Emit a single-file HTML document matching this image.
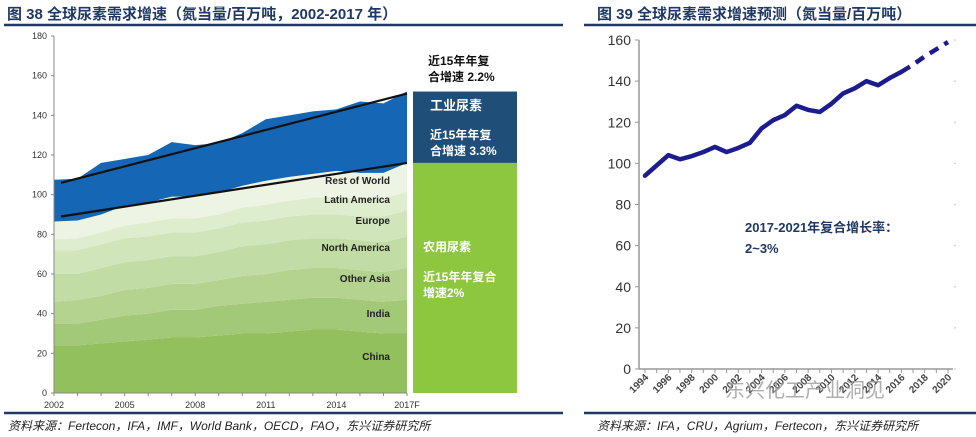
<!DOCTYPE html>
<html><head><meta charset="utf-8">
<style>
body{margin:0;width:976px;height:437px;background:#fff;overflow:hidden;font-family:"Liberation Sans","Noto Sans CJK SC",sans-serif;}
.t{position:absolute;font-weight:bold;color:#1f3864;font-size:15px;top:3px;white-space:nowrap;}
.f{position:absolute;font-style:italic;color:#222;font-size:12px;top:417px;white-space:nowrap;}
</style></head><body>
<div class="t" style="left:7px">图 38 全球尿素需求增速（氮当量/百万吨，2002-2017 年）</div>
<div class="t" style="left:597px">图 39 全球尿素需求增速预测（氮当量/百万吨）</div>
<div class="f" style="left:8px">资料来源：Fertecon，IFA，IMF，World Bank，OECD，FAO，东兴证券研究所</div>
<div class="f" style="left:597px">资料来源：IFA，CRU，Agrium，Fertecon，东兴证券研究所</div>
<svg id="svg" width="976" height="437" style="position:absolute;left:0;top:0">
<line x1="4" y1="25" x2="563" y2="25" stroke="#1f3864" stroke-width="2.5"/>
<line x1="584" y1="25" x2="976" y2="25" stroke="#1f3864" stroke-width="2.5"/>
<line x1="4" y1="413" x2="563" y2="413" stroke="#1f3864" stroke-width="2.5"/>
<line x1="584" y1="413" x2="976" y2="413" stroke="#1f3864" stroke-width="2.5"/>
<g id="L"></g><g id="R"></g>
</svg>
<script>
// ---- left chart data ----
const years = [2002,2003,2004,2005,2006,2007,2008,2009,2010,2011,2012,2013,2014,2015,2016,2017];
const layerNames = ["China","India","Other Asia","North America","Europe","Latin America","Rest of World"];
const china = [24,24,25,26,27,28,28,29,30,30,31,32,32,31,30,30];
const india = [11,11,12,13,13,14,14,15,15,16,16,16,16,16,16,17];
const otherAsia = [11,12,12,13,13,13,13,13,14,14,15,15,15,15,15,16];
const northAmerica = [14,13,14,14,14,14,14,14,15,15,15,15,15,15,15,16];
const europe = [12,12,12,12,12,12,12,12,12,12,12,12,12,12,13,13];
const latinAmerica = [5.5,6,6,6.5,7,7,7,7,7.5,8,8,8.5,9,9,9,9.5];
const restOfWorld = [9,9,9,10,10,11,11,11,11,12,12,12,13,13,13,14.5];
const industrial = [21,21,26,23.5,24,27.5,26,25,26.5,31,31,31.5,31,36,35,36];
const leftTicks = [0,20,40,60,80,100,120,140,160,180];
const xTickLabels = ["2002","2005","2008","2011","2014","2017F"];
const trendUpper = [106,151];
const trendLower = [89,116];
const barTotal = 152, barAgri = 116;
// ---- right chart data ----
const rYears = [1994,1995,1996,1997,1998,1999,2000,2001,2002,2003,2004,2005,2006,2007,2008,2009,2010,2011,2012,2013,2014,2015,2016,2017,2018,2019,2020];
const rValues = [94,99,104,102,103.5,105.5,108,105.5,107.5,110,117,121,123.5,128,126,125,129,134,136.5,140,138,141.5,144.5,148,152,155.5,159];
const rForecastStart = 2016;
const rTicks = [0,20,40,60,80,100,120,140,160];

const NS="http://www.w3.org/2000/svg";
function mk(p,tag,at,txt){const e=document.createElementNS(NS,tag);for(const k in at)e.setAttribute(k,at[k]);if(txt!==undefined)e.textContent=txt;p.appendChild(e);return e;}
const L=document.getElementById('L'), R=document.getElementById('R');

// left axes
const lx=y=>54+(y-2002)*(353/15);
const ly=v=>393-v*(357/180);
const layers=[china,india,otherAsia,northAmerica,europe,latinAmerica,restOfWorld,industrial];
const cols=["#92c05c","#a2c977","#b3d38f","#c2dca6","#d1e5bb","#dfedcf","#edf4e4","#1566b5"];
const lnames=["china-area","india-area","other-asia-area","north-america-area","europe-area","latin-america-area","rest-of-world-area","industrial-area"];
let base=years.map(()=>0);
layers.forEach((arr,i)=>{
  const top=base.map((b,j)=>b+arr[j]);
  let d="M"+years.map((y,j)=>lx(y)+","+ly(top[j])).join(" L");
  for(let j=years.length-1;j>=0;j--) d+=" L"+lx(years[j])+","+ly(base[j]);
  const p=mk(L,'path',{d:d+"Z",fill:cols[i]});
  
  
  base=top;
});
// trend lines
[[trendUpper,"trend-line-total"],[trendLower,"trend-line-agri"]].forEach(([t,n])=>{
  const l=mk(L,'line',{x1:lx(2002.3),y1:ly(t[0]),x2:lx(2017),y2:ly(t[1]),stroke:"#111","stroke-width":2.2});
  
  
});
// axes
const ya=mk(L,'line',{x1:54,y1:ly(180),x2:54,y2:393,stroke:"#888","stroke-width":1});


const xa=mk(L,'line',{x1:54,y1:393,x2:407,y2:393,stroke:"#888","stroke-width":1});


leftTicks.forEach(v=>{
  mk(L,'line',{x1:51,y1:ly(v),x2:54,y2:ly(v),stroke:"#888"});
  const t=mk(L,'text',{x:47,y:ly(v)+3,"text-anchor":"end","font-size":9,fill:"#333"},v);
  
  
});
years.forEach(y=>mk(L,'line',{x1:lx(y),y1:393,x2:lx(y),y2:396,stroke:"#888"}));
xTickLabels.forEach((s,i)=>{
  const t=mk(L,'text',{x:lx(2002+i*3),y:408,"text-anchor":"middle","font-size":9,fill:"#333"},s);
  
  
});
// layer labels
const labY=[360,317,282,251,224,203,184];
layerNames.forEach((n,i)=>{
  const t=mk(L,'text',{x:390,y:labY[i],"text-anchor":"end","font-size":10,"font-weight":"bold",fill:"#222"},n);
  
  
});
// right summary bar
const b1=mk(L,'rect',{x:413,y:ly(barTotal),width:104,height:ly(barAgri)-ly(barTotal),fill:"#1f4e79"});


const b2=mk(L,'rect',{x:413,y:ly(barAgri),width:104,height:393-ly(barAgri),fill:"#8dc63f"});


function txt(x,y,s,c,sz,n){const t=mk(L,'text',{x:x,y:y,"font-size":sz,"font-weight":"bold",fill:c,"font-family":"Liberation Sans, Noto Sans CJK SC, sans-serif"},s);}
txt(428,65,"近15年年复","#111",12,"total-cagr-label");
txt(428,81,"合增速 2.2%","#111",12,"total-cagr-label");
txt(430,110,"工业尿素","#fff",13,"industrial-label");
txt(430,139,"近15年年复","#fff",12,"industrial-cagr-label");
txt(430,155,"合增速 3.3%","#fff",12,"industrial-cagr-label");
txt(423,251,"农用尿素","#fff",12,"agricultural-label");
txt(423,281,"近15年年复合","#fff",12,"agricultural-cagr-label");
txt(423,297,"增速2%","#fff",12,"agricultural-cagr-label");

// ---- right chart ----
const rx=y=>645+(y-1994)*(303/26);
const ry=v=>369-v*(329/160);
const ra=mk(R,'line',{x1:639,y1:ry(160),x2:639,y2:369,stroke:"#999","stroke-width":1.5});


const rxa=mk(R,'line',{x1:639,y1:369,x2:953,y2:369,stroke:"#999","stroke-width":1.5});


rTicks.forEach(v=>{
  mk(R,'line',{x1:635,y1:ry(v),x2:639,y2:ry(v),stroke:"#999"});
  const t=mk(R,'text',{x:631,y:ry(v)+5,"text-anchor":"end","font-size":14,fill:"#333"},v);
  
  
  mk(R,'circle',{cx:955,cy:ry(v),r:0.8,fill:"#bbb"});
});
rYears.forEach(y=>mk(R,'line',{x1:rx(y),y1:369,x2:rx(y),y2:373,stroke:"#999"}));
rYears.filter(y=>y%2===0).forEach(y=>{
  const t=mk(R,'text',{x:rx(y)+4,y:378,"text-anchor":"end","font-size":10,"font-weight":"bold",fill:"#444",transform:`rotate(-45 ${rx(y)+4} 378)`},y);
  
  
});
const solid=rYears.map((y,i)=>[y,rValues[i]]).filter(p=>p[0]<=rForecastStart);
const dash=rYears.map((y,i)=>[y,rValues[i]]).filter(p=>p[0]>=rForecastStart);
const pl=mk(R,'polyline',{points:solid.map(p=>rx(p[0])+","+ry(p[1])).join(" "),fill:"none",stroke:"#1c1c8f","stroke-width":4.5,"stroke-linejoin":"round","stroke-linecap":"round"});


const pd=mk(R,'polyline',{points:dash.map(p=>rx(p[0])+","+ry(p[1])).join(" "),fill:"none",stroke:"#1c1c8f","stroke-width":4.5,"stroke-dasharray":"10 7"});


const a1=mk(R,'text',{x:745,y:232,"font-size":13,"font-weight":"bold",fill:"#1f3864"},"2017-2021年复合增长率：");


const a2=mk(R,'text',{x:745,y:253,"font-size":13,"font-weight":"bold",fill:"#1f3864"},"2~3%");


const wm=mk(R,'text',{x:725,y:397,"font-size":20,fill:"#9a9a9a","fill-opacity":0.8},"东兴化工产业洞见");


</script>
</body></html>
